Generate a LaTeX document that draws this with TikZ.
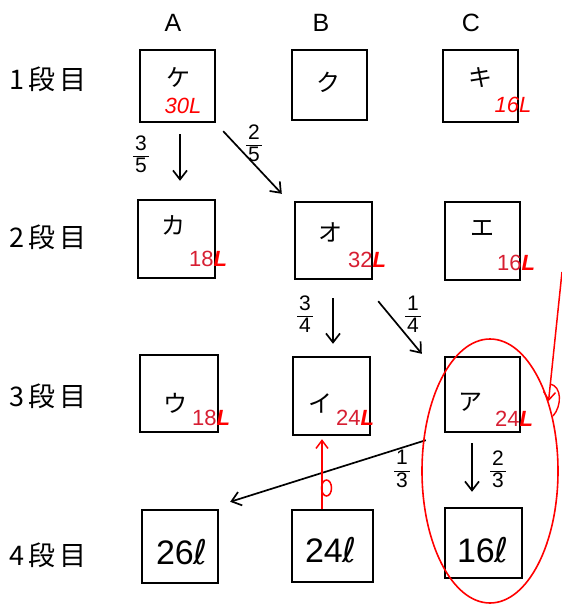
\documentclass[tikz,border=0pt]{standalone}
\usepackage{fontspec}
\setmainfont{Liberation Sans}
\newfontfamily\jp{Noto Sans CJK JP}
\newfontfamily\dv{DejaVu Sans}
\usetikzlibrary{arrows.meta,shapes.geometric}
\definecolor{pen}{RGB}{215,30,50}
\newcommand{\myfr}[2]{\setlength{\arrayrulewidth}{1.5pt}\renewcommand{\arraystretch}{0.9}\begin{tabular}{@{}c@{}}\makebox[16pt]{#1}\\\hline\noalign{\vskip1pt}\makebox[16pt]{#2}\end{tabular}}
\newcommand{\amt}[1]{{\color{pen}\upshape #1}{\color{red}\bfseries\itshape L}}
\begin{document}
\begin{tikzpicture}[x=1pt,y=-1pt,
  box/.style={draw, line width=2.4pt, minimum width=76pt, minimum height=75pt, inner sep=0pt},
  kana/.style={font=\jp\fontsize{24}{24}\selectfont},
  hdr/.style={font=\fontsize{25}{25}\selectfont},
  rowlab/.style={font=\jp\fontsize{27}{27}\selectfont},
  redlab/.style={text=red, font=\fontsize{22}{22}\selectfont\itshape, inner sep=0pt},
  big/.style={font=\fontsize{34}{34}\selectfont},
  frac/.style={font=\fontsize{21}{21}\selectfont, inner sep=0pt},
  arr/.style={-{Straight Barb[length=9pt,width=14pt]}, line width=1.7pt},
  redarr/.style={-{Straight Barb[length=8pt,width=12pt]}, line width=1.5pt, red}]
\useasboundingbox (0,0) rectangle (562,605);
\fill[white] (0,0) rectangle (562,605);
% headers
\node[hdr] (hA) at (173,23) {A};
\node[hdr] (hB) at (321,23) {B};
\node[hdr] (hC) at (471,23) {C};
% row labels
\node[rowlab] (r1) at (48,79) {1\kern4pt段\kern4pt目};
\node[rowlab] (r2) at (48,237) {2\kern4pt段\kern4pt目};
\node[rowlab] (r3) at (48,396) {3\kern4pt段\kern4pt目};
\node[rowlab] (r4) at (48,555) {4\kern4pt段\kern4pt目};
% boxes
\node[box, minimum width=75pt, minimum height=72pt] (a1) at (177.5,86) {};
\node[box, minimum width=75pt, minimum height=70pt] (b1) at (329.5,85) {};
\node[box, minimum width=75pt, minimum height=72pt] (c1) at (480.5,86) {};
\node[box, minimum width=77pt, minimum height=78pt] (a2) at (176.5,239) {};
\node[box, minimum width=77pt, minimum height=77pt] (b2) at (333.5,240.5) {};
\node[box, minimum width=75pt, minimum height=78pt] (c2) at (482.5,241) {};
\node[box, minimum width=78pt, minimum height=77pt] (a3) at (179,393.5) {};
\node[box, minimum width=77pt, minimum height=78pt] (b3) at (331.5,396) {};
\node[box, minimum width=75pt, minimum height=75pt] (c3) at (482.5,394.5) {};
\node[box, minimum width=76pt, minimum height=73pt] (a4) at (180,546.5) {};
\node[box, minimum width=81pt, minimum height=72pt] (b4) at (332.5,546) {};
\node[box, minimum width=77pt, minimum height=70pt] (c4) at (483.5,543) {};
% kana
\node[kana] (ta1) at (178,77) {ケ};
\node[kana] (tb1) at (328,82) {ク};
\node[kana] (tc1) at (480,78) {キ};
\node[kana] (ta2) at (173,225) {カ};
\node[kana] (tb2) at (330,232) {オ};
\node[kana] (tc2) at (482,228) {エ};
\node[kana] (ta3) at (175,403) {ウ};
\node[kana] (tb3) at (320,403) {イ};
\node[kana] (tc3) at (470,402) {ア};
% row 4 volumes
\node[big] (va4) at (182,552) {26{\dv ℓ}};
\node[big] (vb4) at (331,550) {24{\dv ℓ}};
\node[big] (vc4) at (483,550) {16{\dv ℓ}};
% red amounts
\node[redlab] (la1) at (183,106) {30L};
\node[redlab] (lc1) at (513,105) {16L};
\node[redlab] (la2) at (208,259) {\amt{18}};
\node[redlab] (lb2) at (367,260) {\amt{32}};
\node[redlab] (lc2) at (516,263) {\amt{16}};
\node[redlab] (la3) at (211,418) {\amt{18}};
\node[redlab] (lb3) at (355,418) {\amt{24}};
\node[redlab] (lc3) at (514,419) {\amt{24}};
% black arrows
\draw[arr] ([shift={(2.5,11)}]a1.south) -- ([shift={(3.5,-18)}]a2.north);
\node[frac] (f35) at (141,157) {\myfr{3}{5}};
\draw[arr] ([shift={(7,8)}]a1.south east) -- ([shift={(-12,-7)}]b2.north west);
\node[frac] (f25) at (254,146) {\myfr{2}{5}};
\draw[arr] ([shift={(-0.5,18)}]b2.south) -- ([shift={(1.5,-12)}]b3.north);
\node[frac] (f34) at (305,317) {\myfr{3}{4}};
\draw[arr] ([shift={(5,21)}]b2.south east) -- ([shift={(-22,-2)}]c3.north west);
\node[frac] (f14) at (413,317) {\myfr{1}{4}};
\draw[arr] ([shift={(-18,7)}]c3.south west) -- ([shift={(11,-7)}]a4.north east);
\node[frac] (f13) at (402,472) {\myfr{1}{3}};
\draw[arr] ([shift={(-10.5,10)}]c3.south) -- ([shift={(-11.5,-15)}]c4.north);
\node[frac] (f23) at (498,472) {\myfr{2}{3}};
% red markings
\draw[redarr] ([xshift=-10.5]b4.north) -- ([shift={(-9.5,3)}]b3.south);
\draw[red, line width=1.5pt] (326.5,488) ellipse [x radius=5, y radius=8];
\node[draw=red, line width=1.6pt, ellipse, minimum width=136pt, minimum height=264pt, inner sep=0pt] (ov) at (490,471) {};
\coordinate (rtop) at (562,272);
\draw[redarr] (rtop) -- (ov.50);
\draw[red, line width=1.4pt] (550,384) .. controls (562,386) and (562,406) .. (553,416);
\end{tikzpicture}
\end{document}
